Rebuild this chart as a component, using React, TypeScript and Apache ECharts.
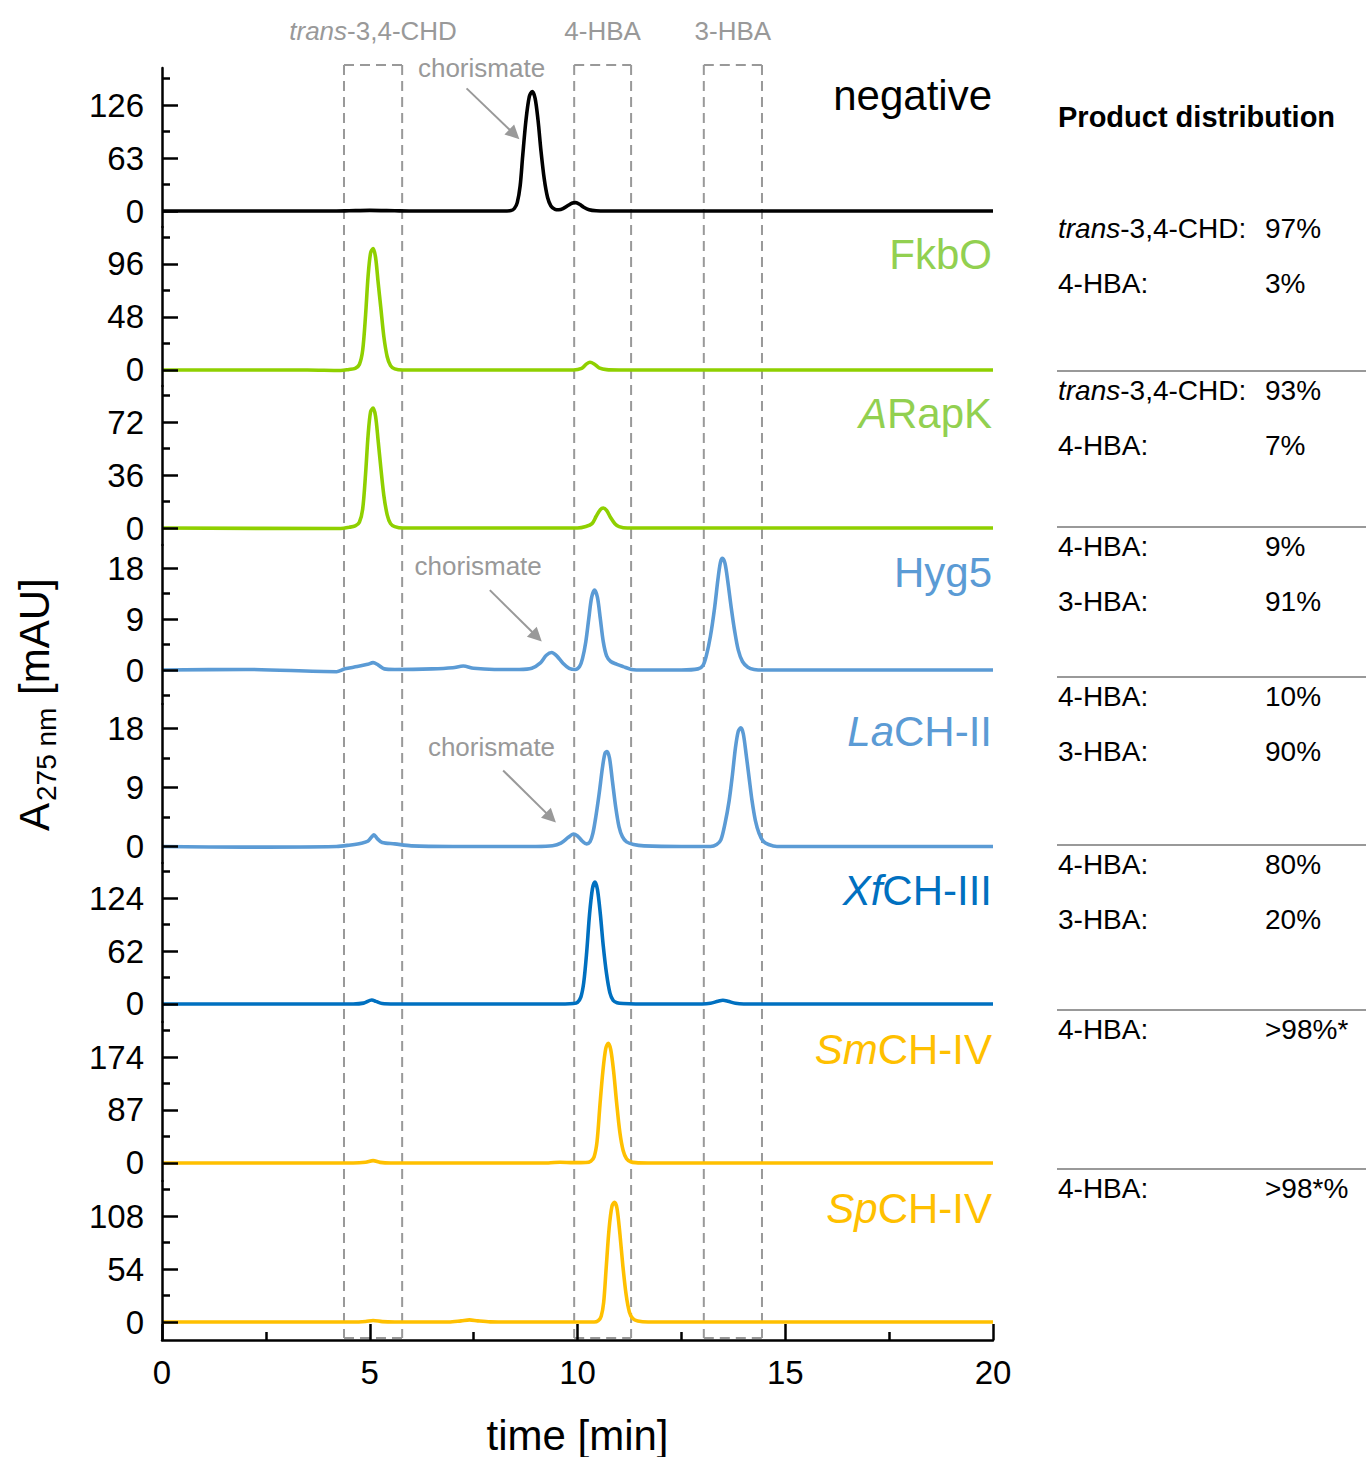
import React, { useEffect, useRef } from "react";
import * as echarts from "echarts";

const FONT = "'Liberation Sans', Arial, Helvetica, sans-serif";

// ---------- axes ----------
const timeMin = 0;
const timeMax = 20;
const timeInterval = 5;

// ---------- panels ----------
const panelItalic = ["", "", "A", "", "La", "Xf", "Sm", "Sp"];
const panelRest = ["negative", "FkbO", "RapK", "Hyg5", "CH-II", "CH-III", "CH-IV", "CH-IV"];
const lineColors = ["#000000", "#8fd000", "#8fd000", "#5b9bd5", "#5b9bd5", "#0070c0", "#ffc000", "#ffc000"];
const textColors = ["#000000", "#92d050", "#92d050", "#5b9bd5", "#5b9bd5", "#0070c0", "#ffc000", "#ffc000"];
const yMins = [-19, -14.5, -11.5, -6, -2.52, -21.1, -29.6, -18.3];
const yMaxs = [170, 129.5, 96.5, 22.06, 21.74, 165, 231.5, 143.7];
const yMajorTicks = [
  [0, 63, 126], [0, 48, 96], [0, 36, 72], [0, 9, 18],
  [0, 9, 18], [0, 62, 124], [0, 87, 174], [0, 54, 108],
];
const yMinorTicks = [
  [31.5, 94.5, 157.5], [24, 72, 120], [18, 54, 90], [-4.5, 4.5, 13.5],
  [4.5, 13.5], [31, 93, 155], [43.5, 130.5, 217.5], [27, 81, 135],
];

// ---------- traces [time min, A275 mAU] ----------
const negativeTrace = [
  [0, 0], [4.2, 0], [4.5, 0.3], [5.0, 0.8], [5.6, 0.3], [6.0, 0], [8.2, 0], [8.4, 0.5], [8.48, 3],
  [8.55, 10], [8.62, 30], [8.68, 65], [8.76, 108], [8.84, 136], [8.91, 142], [8.98, 134], [9.05, 108],
  [9.12, 72], [9.2, 38], [9.28, 16], [9.36, 6], [9.46, 2], [9.55, 1.5], [9.65, 2.8], [9.77, 6.5],
  [9.88, 9.5], [9.96, 10], [10.05, 8], [10.15, 4.5], [10.28, 1.5], [10.45, 0.3], [10.7, 0], [20, 0],
];
const fkboTrace = [
  [0, 0], [3.5, 0], [4.3, -0.5], [4.5, 0.5], [4.65, 1.5], [4.75, 5], [4.83, 18], [4.9, 50], [4.96, 85],
  [5.02, 106], [5.08, 110], [5.14, 102], [5.2, 80], [5.27, 55], [5.34, 30], [5.42, 12], [5.5, 4],
  [5.6, 1], [5.8, 0], [9.9, 0], [10.1, 1.5], [10.22, 5.5], [10.3, 7], [10.4, 5.5], [10.52, 2],
  [10.7, 0.3], [11, 0], [20, 0],
];
const arapkTrace = [
  [0, 0], [4.3, -0.3], [4.5, 0.5], [4.65, 1.5], [4.75, 4], [4.83, 13], [4.9, 37], [4.96, 63], [5.02, 79],
  [5.08, 81.5], [5.14, 76], [5.2, 60], [5.27, 40], [5.34, 22], [5.42, 9], [5.5, 3], [5.6, 1], [5.8, 0],
  [10.0, 0], [10.2, 1], [10.35, 3], [10.45, 8], [10.55, 12.5], [10.62, 13.6], [10.7, 12], [10.8, 7],
  [10.9, 3], [11.0, 1], [11.2, 0], [20, 0],
];
const hyg5Trace = [
  [0, 0], [2, 0.1], [4.2, -0.3], [4.4, 0.2], [4.7, 0.6], [4.95, 1.0], [5.08, 1.3], [5.2, 0.9],
  [5.35, 0.2], [5.6, 0.1], [6.5, 0.2], [7.0, 0.4], [7.25, 0.7], [7.5, 0.3], [8.0, 0.1], [8.6, 0.1],
  [8.9, 0.3], [9.1, 1.2], [9.25, 2.6], [9.38, 3.1], [9.5, 2.5], [9.65, 1.2], [9.8, 0.3], [9.95, 0.1],
  [10.05, 0.6], [10.12, 2], [10.2, 5], [10.27, 9], [10.34, 12.8], [10.41, 14.1], [10.48, 12.8],
  [10.55, 9], [10.62, 5], [10.7, 2.5], [10.8, 1.5], [10.95, 1.0], [11.1, 0.6], [11.3, 0.1], [11.6, 0],
  [12.5, 0], [12.9, 0.2], [13.02, 0.8], [13.1, 2.5], [13.2, 6], [13.3, 11], [13.38, 16], [13.44, 19],
  [13.49, 19.7], [13.55, 18.8], [13.62, 15.5], [13.7, 11], [13.78, 7], [13.87, 3.5], [13.97, 1.5],
  [14.1, 0.5], [14.25, 0.1], [14.5, 0], [20, 0],
];
const lach2Trace = [
  [0, 0], [2, -0.1], [4.2, 0], [4.5, 0.2], [4.8, 0.5], [4.95, 0.8], [5.05, 1.5], [5.1, 1.8], [5.18, 1.2],
  [5.3, 0.6], [5.6, 0.4], [6.0, 0.1], [7.0, 0], [9.0, 0], [9.4, 0.1], [9.6, 0.5], [9.78, 1.4], [9.9, 1.9],
  [10.0, 1.6], [10.12, 0.8], [10.22, 0.4], [10.3, 0.7], [10.37, 2], [10.44, 4.5], [10.52, 8], [10.6, 12],
  [10.66, 14.2], [10.71, 14.5], [10.77, 13.5], [10.84, 10], [10.92, 6], [11.0, 3], [11.08, 1.5],
  [11.18, 0.7], [11.35, 0.3], [11.6, 0.1], [12.5, 0], [13.2, 0], [13.35, 0.3], [13.45, 1], [13.55, 3.5],
  [13.65, 7], [13.73, 11], [13.8, 15], [13.87, 17.6], [13.93, 18.1], [13.99, 17.2], [14.06, 14],
  [14.13, 10.5], [14.2, 7], [14.28, 4], [14.37, 2], [14.47, 0.8], [14.6, 0.3], [14.8, 0], [20, 0],
];
const xfch3Trace = [
  [0, 0], [4.6, 0], [4.85, 1], [5.05, 4.7], [5.15, 3], [5.3, 0.5], [5.6, 0], [9.7, 0], [9.9, 0.5],
  [10.0, 2], [10.08, 8], [10.15, 25], [10.22, 60], [10.29, 105], [10.36, 135], [10.42, 142.7],
  [10.48, 134], [10.55, 105], [10.62, 68], [10.7, 35], [10.78, 13], [10.86, 4], [10.95, 1.5],
  [11.1, 0.5], [11.4, 0], [13.0, 0], [13.2, 0.8], [13.38, 3.2], [13.5, 4.3], [13.62, 3.2], [13.8, 0.8],
  [14.0, 0], [20, 0],
];
const smch4Trace = [
  [0, 0], [4.6, 0], [4.9, 1.2], [5.08, 3.8], [5.25, 1], [5.5, 0], [9.3, 0], [9.58, 1.3], [9.9, 0.5],
  [10.2, 0.8], [10.32, 3], [10.4, 10], [10.47, 35], [10.54, 95], [10.61, 150], [10.68, 188],
  [10.74, 196.5], [10.8, 186], [10.87, 150], [10.94, 100], [11.02, 50], [11.1, 20], [11.18, 7],
  [11.28, 2], [11.4, 0.5], [11.7, 0], [20, 0],
];
const spch4Trace = [
  [0, 0], [4.6, 0], [4.9, 0.6], [5.08, 1.6], [5.3, 0.4], [5.6, 0], [6.9, 0], [7.2, 1.2], [7.4, 2.2],
  [7.6, 1.2], [7.9, 0.2], [8.5, 0], [10.4, 0], [10.5, 1.5], [10.57, 6], [10.63, 20], [10.69, 55],
  [10.76, 95], [10.83, 118], [10.89, 122], [10.95, 116], [11.02, 90], [11.09, 58], [11.17, 28],
  [11.25, 10], [11.33, 3.5], [11.45, 1], [11.7, 0], [20, 0],
];
const traces = [negativeTrace, fkboTrace, arapkTrace, hyg5Trace, lach2Trace, xfch3Trace, smch4Trace, spch4Trace];

// ---------- product retention windows ----------
const boxStarts = [4.38, 9.92, 13.04];
const boxEnds = [5.78, 11.29, 14.44];
const boxItalic = ["trans", "", ""];
const boxRest = ["-3,4-CHD", "4-HBA", "3-HBA"];

// ---------- chorismate annotations (panel, text pos, arrow tail, arrow tip) ----------
const chorPanels = [0, 3, 4];
const chorText = [[7.69, 170], [7.61, 18.4], [7.93, 15.2]];
const chorTail = [[7.33, 145.8], [7.89, 14.1], [8.21, 11.6]];
const chorTip = [[8.48, 91.2], [9.02, 5.9], [9.36, 4.4]];

// ---------- product distribution table ----------
const productNames = [
  ["trans-3,4-CHD", "4-HBA"], ["trans-3,4-CHD", "4-HBA"], ["4-HBA", "3-HBA"],
  ["4-HBA", "3-HBA"], ["4-HBA", "3-HBA"], ["4-HBA"], ["4-HBA"],
];
const productShares = [
  ["97%", "3%"], ["93%", "7%"], ["9%", "91%"], ["10%", "90%"], ["80%", "20%"], [">98%*"], [">98*%"],
];
const tableRowStart = [228, 390, 546, 696, 864, 1029, 1188];
const tableSeparators = [371, 527, 677, 845, 1010, 1169];

export default function App() {
  const ref = useRef<HTMLDivElement>(null);
  useEffect(() => {
    const chart = echarts.init(ref.current!, null, { renderer: "svg" });
    const n = traces.length;
    const gridTop = 68;
    const panelH = 159;
    const gridLeft = 162;
    const gridW = 831;
    const last = n - 1;

    const grids = traces.map((_, i) => ({ left: gridLeft, top: gridTop + i * panelH, width: gridW, height: panelH }));
    const xAxes = traces.map((_, i) => ({
      type: "value",
      gridIndex: i,
      min: timeMin,
      max: timeMax,
      interval: timeInterval,
      axisLine: { show: i === last, onZero: false, lineStyle: { color: "#000", width: 2.5 } },
      axisTick: { show: i === last, inside: true, length: 16, lineStyle: { color: "#000", width: 2.5 } },
      minorTick: { show: i === last, splitNumber: 2, length: 8, lineStyle: { color: "#000", width: 2.5 } },
      axisLabel: { show: i === last, fontSize: 33, color: "#000", margin: 16, fontFamily: FONT },
      splitLine: { show: false },
      minorSplitLine: { show: false },
      name: i === last ? "time [min]" : "",
      nameLocation: "middle",
      nameGap: 74,
      nameTextStyle: { fontSize: 42, color: "#000", fontFamily: FONT },
      z: 5,
    }));
    const yMajor = traces.map((_, i) => ({
      type: "value",
      gridIndex: i,
      position: "left",
      min: yMins[i],
      max: yMaxs[i],
      axisLine: { show: true, onZero: false, lineStyle: { color: "#000", width: 2.5 } },
      axisTick: { show: true, inside: true, length: 16, customValues: yMajorTicks[i], lineStyle: { color: "#000", width: 2.5 } },
      axisLabel: { show: true, customValues: yMajorTicks[i], fontSize: 33, color: "#000", margin: 18, fontFamily: FONT },
      splitLine: { show: false },
      z: 5,
    }));
    const yMinor = traces.map((_, i) => ({
      type: "value",
      gridIndex: i,
      position: "left",
      offset: 0,
      min: yMins[i],
      max: yMaxs[i],
      axisLine: { show: false, onZero: false },
      axisTick: { show: true, inside: true, length: 8, customValues: yMinorTicks[i], lineStyle: { color: "#000", width: 2.5 } },
      axisLabel: { show: false },
      splitLine: { show: false },
    }));

    const series = traces.map((tr, i) => {
      const s: any = {
        type: "line",
        xAxisIndex: i,
        yAxisIndex: i,
        data: tr,
        showSymbol: false,
        smooth: 0.3,
        lineStyle: { color: lineColors[i], width: 3.6 },
        z: 3,
      };
      const k = chorPanels.indexOf(i);
      if (k >= 0) {
        s.markLine = {
          silent: true,
          animation: false,
          symbol: ["none", "triangle"],
          symbolSize: 14,
          lineStyle: { color: "#999", width: 2, type: "solid" },
          itemStyle: { color: "#999" },
          label: { show: false },
          data: [[{ coord: chorTail[k], symbol: "none" }, { coord: chorTip[k], symbol: "triangle", symbolSize: 14 }]],
        };
      }
      return s;
    });

    chart.setOption({
      animation: false,
      grid: grids,
      xAxis: xAxes,
      yAxis: [...yMajor, ...yMinor],
      series,
    });

    const px = (i: number, t: number, v: number) =>
      chart.convertToPixel({ xAxisIndex: i, yAxisIndex: i } as any, [t, v]) as number[];

    const els: any[] = [];
    const boxTop = gridTop - 3;
    const boxBottom = gridTop + n * panelH - 2;
    const dash = { stroke: "#999", lineWidth: 2, lineDash: [10, 6] };
    boxStarts.forEach((b, k) => {
      const x1 = px(last, b, 0)[0];
      const x2 = px(last, boxEnds[k], 0)[0];
      els.push({ type: "line", z: 1, shape: { x1, y1: boxTop, x2: x1, y2: boxBottom }, style: dash });
      els.push({ type: "line", z: 1, shape: { x1: x2, y1: boxTop, x2, y2: boxBottom }, style: dash });
      els.push({ type: "line", z: 1, shape: { x1, y1: boxTop, x2, y2: boxTop }, style: dash });
      els.push({ type: "line", z: 1, shape: { x1, y1: boxBottom, x2, y2: boxBottom }, style: dash });
      const txt = boxItalic[k] ? `{i|${boxItalic[k]}}{n|${boxRest[k]}}` : `{n|${boxRest[k]}}`;
      els.push({
        type: "text", z: 10, x: (x1 + x2) / 2, y: gridTop - 37,
        style: {
          text: txt, align: "center", textAlign: "center", verticalAlign: "middle", textVerticalAlign: "middle",
          rich: {
            i: { fontSize: 26, fontStyle: "italic", fontFamily: FONT, fill: "#999" },
            n: { fontSize: 26, fontFamily: FONT, fill: "#999" },
          },
        },
      });
    });

    chorPanels.forEach((p, k) => {
      const [x, y] = px(p, chorText[k][0], chorText[k][1]);
      els.push({
        type: "text", z: 10, x, y,
        style: { text: "chorismate", fontSize: 26, fontFamily: FONT, fill: "#999", align: "center", textAlign: "center", verticalAlign: "middle", textVerticalAlign: "middle" },
      });
    });

    traces.forEach((_, i) => {
      const c = textColors[i];
      const txt = panelItalic[i] ? `{i|${panelItalic[i]}}{n|${panelRest[i]}}` : `{n|${panelRest[i]}}`;
      els.push({
        type: "text", z: 10, x: gridLeft + gridW - 1, y: gridTop + i * panelH + 27,
        style: {
          text: txt, align: "right", textAlign: "right", verticalAlign: "middle", textVerticalAlign: "middle",
          rich: {
            i: { fontSize: 42, fontStyle: "italic", fontFamily: FONT, fill: c },
            n: { fontSize: 42, fontFamily: FONT, fill: c },
          },
        },
      });
    });

    // y axis title
    els.push({ type: "text", z: 10, x: 34, y: 831, rotation: Math.PI / 2,
      style: { text: "A", fontSize: 42, fontFamily: FONT, fill: "#000", align: "left", textAlign: "left", verticalAlign: "middle", textVerticalAlign: "middle" } });
    els.push({ type: "text", z: 10, x: 46, y: 801, rotation: Math.PI / 2,
      style: { text: "275 nm", fontSize: 28, fontFamily: FONT, fill: "#000", align: "left", textAlign: "left", verticalAlign: "middle", textVerticalAlign: "middle" } });
    els.push({ type: "text", z: 10, x: 34, y: 695, rotation: Math.PI / 2,
      style: { text: "[mAU]", fontSize: 42, fontFamily: FONT, fill: "#000", align: "left", textAlign: "left", verticalAlign: "middle", textVerticalAlign: "middle" } });

    // product distribution table
    const tx = 1058;
    const vx = 1265;
    els.push({ type: "text", z: 10, x: tx, y: 117,
      style: { text: "Product distribution", fontSize: 29, fontWeight: "bold", fontFamily: FONT, fill: "#000", align: "left", textAlign: "left", verticalAlign: "middle", textVerticalAlign: "middle" } });
    productNames.forEach((names, g) => {
      names.forEach((nm, r) => {
        const y = tableRowStart[g] + r * 55;
        const rich = nm.startsWith("trans") ? `{i|trans}{n|${nm.slice(5)}:}` : `{n|${nm}:}`;
        els.push({ type: "text", z: 10, x: tx, y,
          style: { text: rich, align: "left", textAlign: "left", verticalAlign: "middle", textVerticalAlign: "middle",
            rich: {
              i: { fontSize: 28, fontStyle: "italic", fontFamily: FONT, fill: "#000" },
              n: { fontSize: 28, fontFamily: FONT, fill: "#000" },
            } } });
        els.push({ type: "text", z: 10, x: vx, y,
          style: { text: productShares[g][r], fontSize: 28, fontFamily: FONT, fill: "#000", align: "left", textAlign: "left", verticalAlign: "middle", textVerticalAlign: "middle" } });
      });
    });
    tableSeparators.forEach((y) => {
      els.push({ type: "line", z: 1, shape: { x1: 1057, y1: y, x2: 1366, y2: y }, style: { stroke: "#777", lineWidth: 1.5 } });
    });

    chart.setOption({ graphic: { elements: els } });
    return () => chart.dispose();
  }, []);
  return <div ref={ref} style={{ position: "absolute", left: 0, top: 0, width: 1366, height: 1457 }} />;
}
